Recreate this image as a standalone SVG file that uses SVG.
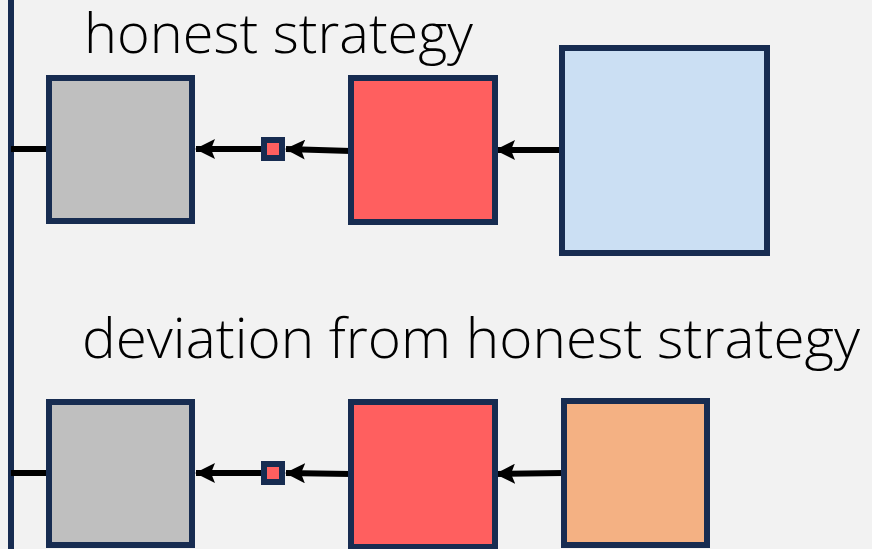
<svg xmlns="http://www.w3.org/2000/svg" width="872" height="549" viewBox="0 0 872 549">
<defs>
<style>
.box{stroke:#172C51;stroke-width:6}
.gray{fill:#BFBFBF}
.red{fill:#FF5F5F}
.blue{fill:#CBDFF3}
.orange{fill:#F4B183}
.edge{stroke:#000;stroke-width:6;fill:none}
.lbl{font-family:"Open Sans","Noto Sans",sans-serif;font-weight:300;font-size:56px;fill:#000}
</style>
<marker id="ah" viewBox="0 0 20 20" refX="19" refY="10" markerWidth="20" markerHeight="20" markerUnits="userSpaceOnUse" orient="auto">
<path d="M0,0 L20,10 L0,20 L4,10 Z" fill="#000"/>
</marker>
</defs>
<rect width="872" height="549" fill="#F2F2F2"/>
<line x1="11" y1="0" x2="11" y2="549" stroke="#172C51" stroke-width="6"/>
<text class="lbl" x="84" y="53" textLength="389" lengthAdjust="spacingAndGlyphs">honest strategy</text>
<text class="lbl" x="82" y="358" textLength="778" lengthAdjust="spacingAndGlyphs">deviation from honest strategy</text>
<g id="connectors">
<line class="edge" x1="11" y1="149" x2="49" y2="149"/>
<line class="edge" x1="261" y1="149" x2="196" y2="149" marker-end="url(#ah)"/>
<line class="edge" x1="351" y1="151" x2="286" y2="149" marker-end="url(#ah)"/>
<line class="edge" x1="561" y1="150" x2="496" y2="150" marker-end="url(#ah)"/>
<line class="edge" x1="11" y1="473" x2="49" y2="473"/>
<line class="edge" x1="261" y1="473" x2="196" y2="473" marker-end="url(#ah)"/>
<line class="edge" x1="351" y1="474" x2="286" y2="473" marker-end="url(#ah)"/>
<line class="edge" x1="563" y1="473" x2="496" y2="474" marker-end="url(#ah)"/>
</g>
<g id="top-gray"><rect class="box gray" x="49" y="78" width="143" height="143"/></g>
<g id="top-small"><rect class="box red" x="264" y="140" width="18" height="18"/></g>
<g id="top-red"><rect class="box red" x="351" y="78" width="144" height="144"/></g>
<g id="top-blue"><rect class="box blue" x="562" y="48" width="205" height="205"/></g>
<g id="bot-gray"><rect class="box gray" x="49" y="402" width="143" height="143"/></g>
<g id="bot-small"><rect class="box red" x="264" y="464" width="18" height="18"/></g>
<g id="bot-red"><rect class="box red" x="351" y="402" width="144" height="145"/></g>
<g id="bot-orange"><rect class="box orange" x="564" y="401" width="143" height="144"/></g>
</svg>
